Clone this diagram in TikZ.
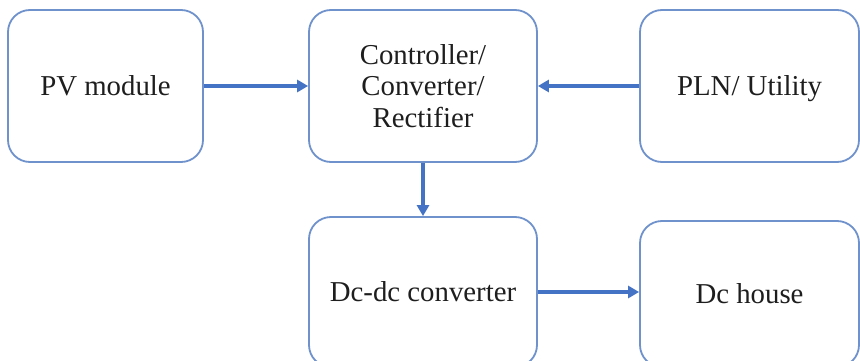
\documentclass[tikz,border=0pt]{standalone}
\usepackage{fontspec}
\setmainfont{Liberation Serif}
\usetikzlibrary{arrows.meta}
\definecolor{boxline}{RGB}{112,146,204}
\definecolor{arrowcol}{RGB}{68,114,196}
\definecolor{txt}{RGB}{30,30,30}
\tikzset{
  blockbox/.style={draw=boxline, line width=1.8pt, rounded corners=22pt, fill=white,
    rectangle, align=center, text=txt, inner sep=0pt,
    font=\fontsize{28.8}{31.5}\selectfont},
  oneline/.style={text height=26pt, text depth=7pt},
  flow/.style={draw=arrowcol, line width=3.5pt, -{Triangle[length=11pt,width=12pt]}}
}
\begin{document}
\begin{tikzpicture}[x=1pt,y=-1pt]
\clip (0,0) rectangle (860,361);
\fill[white] (0,0) rectangle (860,361);
\node[blockbox, oneline, minimum width=195pt, minimum height=152pt] (pv) at (105.5,86) {PV module};
\node[blockbox, minimum width=228pt, minimum height=152pt] (ctrl) at (423,86) {Controller/\\Converter/\\Rectifier};
\node[blockbox, oneline, minimum width=219pt, minimum height=152pt] (pln) at (749.5,86) {PLN/ Utility};
\node[blockbox, oneline, minimum width=228pt, minimum height=150pt] (dcdc) at (423,292) {Dc-dc converter};
\node[blockbox, oneline, minimum width=219pt, minimum height=146pt] (house) at (749.5,294) {Dc house};
\draw[flow] (pv.east) -- (ctrl.west);
\draw[flow] (pln.west) -- (ctrl.east);
\draw[flow] (ctrl.south) -- (ctrl.south |- dcdc.north);
\draw[flow] (dcdc.east) -- (dcdc.east -| house.west);
\end{tikzpicture}
\end{document}
